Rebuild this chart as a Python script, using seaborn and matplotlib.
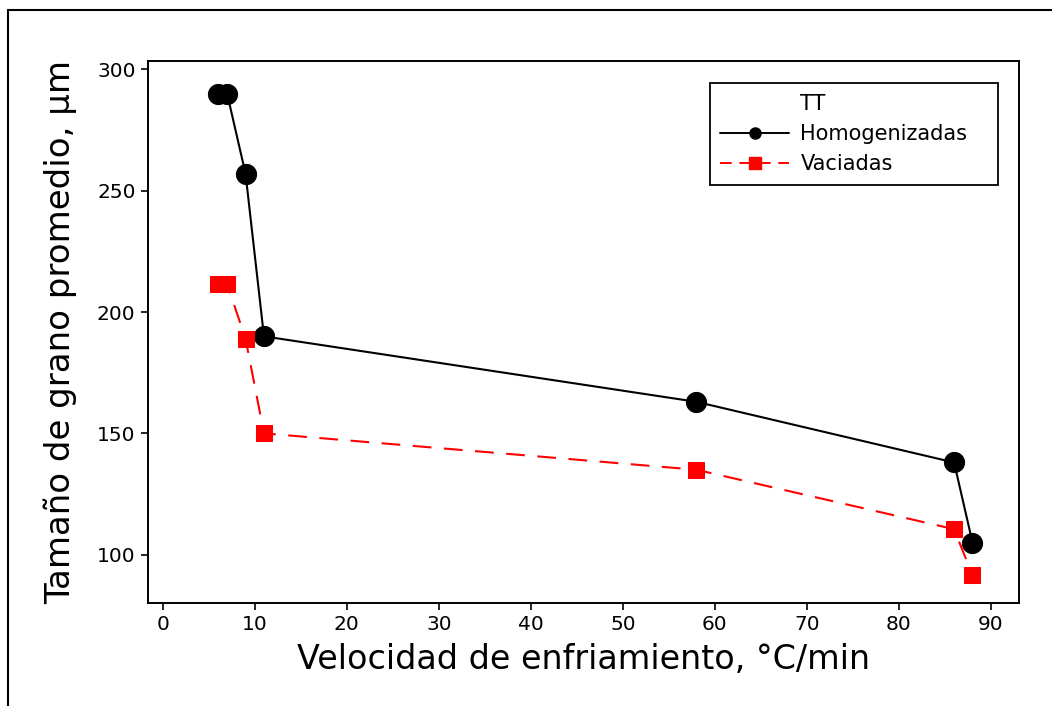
import matplotlib
matplotlib.use("Agg")
import matplotlib.pyplot as plt
from matplotlib.lines import Line2D
import pandas as pd
import seaborn as sns

# Cooling rate (°C/min) and mean grain size (µm) for each heat-treatment condition
velocidad = [6, 7, 9, 11, 58, 86, 88]
homogenizadas = [290, 290, 257, 190, 163, 138, 105]
vaciadas = [211.5, 211.5, 189, 150, 135, 110.5, 91.5]
series_names = ["Homogenizadas", "Vaciadas"]
x_ticks = [0, 10, 20, 30, 40, 50, 60, 70, 80, 90]
y_ticks = [100, 150, 200, 250, 300]

df = pd.DataFrame({
    "Velocidad": velocidad * 2,
    "Tamaño": homogenizadas + vaciadas,
    "TT": [series_names[0]] * len(velocidad) + [series_names[1]] * len(velocidad),
})

sns.set_theme(style="white")
plt.rcParams["font.family"] = ["DejaVu Sans"]
plt.rcParams.update({
    "text.color": "black",
    "axes.labelcolor": "black",
    "xtick.color": "black",
    "ytick.color": "black",
})

fig = plt.figure(figsize=(10.52, 7.06), dpi=100)
ax = fig.add_axes([0.1407, 0.146, 0.8279, 0.7676])

styles = {
    "Homogenizadas": dict(color="black", marker="o", markersize=14.5, linestyle="-"),
    "Vaciadas": dict(color="#FF0000", marker="s", markersize=11.5, linestyle=(0, (9, 6))),
}

for name in series_names:
    sub = df[df["TT"] == name]
    st = styles[name]
    sns.lineplot(data=sub, x="Velocidad", y="Tamaño", ax=ax, estimator=None, sort=False,
                 color=st["color"], marker=st["marker"], markersize=st["markersize"],
                 markeredgecolor=st["color"], linewidth=1.5, legend=False)
    ax.lines[-1].set_linestyle(st["linestyle"])

ax.set_xlim(-1.6, 93.05)
ax.set_ylim(80.1, 303.5)
ax.set_xticks(x_ticks)
ax.set_yticks(y_ticks)
ax.set_xlabel("Velocidad de enfriamiento, °C/min", fontsize=24, labelpad=6)
ax.set_ylabel("Tamaño de grano promedio, µm", fontsize=24.5, labelpad=14)

for sp in ax.spines.values():
    sp.set_color("black")
    sp.set_linewidth(1.4)
ax.tick_params(axis="both", which="major", direction="out", length=5, width=1.2,
               color="black", labelsize=14.5, pad=4, bottom=True, left=True)

# Legend: title row plus one entry per series
handles = [
    Line2D([], [], linestyle="none"),
    Line2D([], [], color="black", lw=1.4, marker="o", markersize=8),
    Line2D([], [], color="#FF0000", lw=1.4, linestyle=(0, (6, 4)), marker="s", markersize=9),
]
labels = ["TT"] + series_names
leg = ax.legend(handles, labels, loc="upper left", bbox_to_anchor=(0.645, 0.959, 0.331, 0.0),
                mode="expand", borderaxespad=0, fontsize=15, frameon=True, fancybox=False,
                handlelength=3.3, handletextpad=0.55, labelspacing=0.5,
                borderpad=0.5)
leg.get_frame().set_edgecolor("black")
leg.get_frame().set_linewidth(1.3)
leg.get_frame().set_alpha(1)

# Outer frame lines (top and left)
fig.add_artist(Line2D([0.0076, 1.0], [0.9865, 0.9865], transform=fig.transFigure,
                      color="black", lw=1.5))
fig.add_artist(Line2D([0.0076, 0.0076], [0.0, 0.9865], transform=fig.transFigure,
                      color="black", lw=1.5))

fig.savefig("out.png", dpi=100)
